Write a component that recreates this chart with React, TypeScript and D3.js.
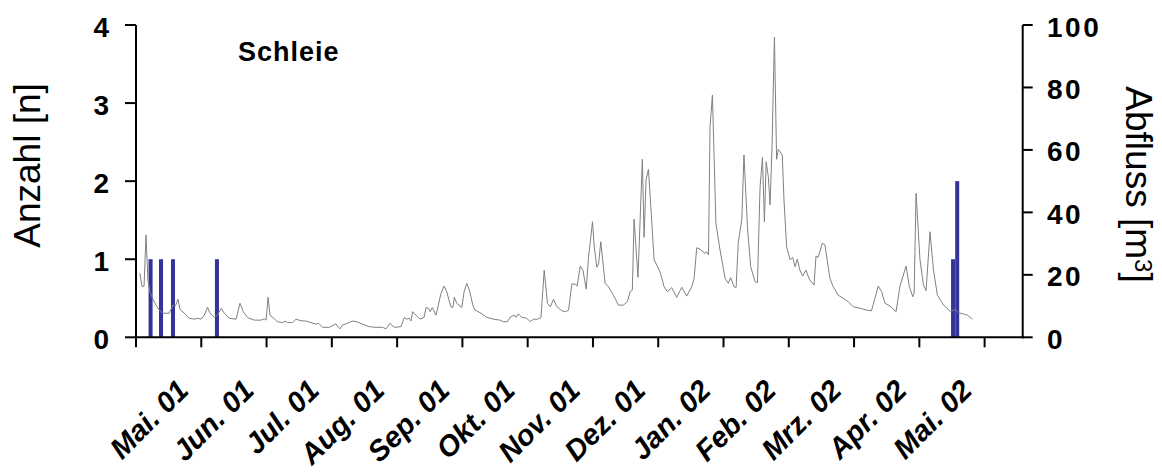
import React from "react";
import * as d3 from "d3";

// ---- Data ----
const monthLabels = ["Mai. 01", "Jun. 01", "Jul. 01", "Aug. 01", "Sep. 01", "Okt. 01", "Nov. 01", "Dez. 01", "Jan. 02", "Feb. 02", "Mrz. 02", "Apr. 02", "Mai. 02"];
const xTickDays = [0, 30, 60, 90, 120, 150, 180, 210, 240, 270, 300, 330, 360, 390];
const leftTicks = [0, 1, 2, 3, 4];
const rightTicks = [0, 20, 40, 60, 80, 100];

// Anzahl (fish count) bars: day index and count
const countDays = [6.7, 11.5, 17, 37.2, 375.5, 377.4];
const countValues = [1, 1, 1, 1, 1, 2];

// Abfluss (discharge) line: [day index, value]
const flow: [number, number][] = [
  [1.8, 20.5], [2.8, 16.2], [3.7, 16.4], [4.6, 32.8], [5.5, 18.3], [6.4, 14.6], [7.6, 12.5], [9.2, 10.3], [10.7, 8.7], [12.3, 7.7],
  [15.3, 7.7], [16.9, 10.3], [18.1, 10], [19.3, 12.2], [20.2, 9], [22.2, 7.7], [24.5, 6.1], [26.8, 5.8], [28.3, 6.1], [29.9, 5.8],
  [31.4, 7.1], [32.9, 9.6], [34, 7.7], [36, 6.4], [37.5, 7.1], [39.1, 9.3], [40.6, 7.7], [42.9, 6.1], [46, 5.8], [47.8, 10.9],
  [49.3, 8.2], [51.3, 6.3], [54.4, 5.5], [57.5, 5.5], [59, 5.9], [59.8, 5.5], [60.7, 12.8], [61.6, 7.1], [63.6, 5.9], [65.1, 5],
  [67.4, 4.7], [68.6, 5.2], [69.7, 4.7], [72, 4.7], [73.5, 5.8], [75.8, 5.3], [78.1, 5.2], [80.4, 4.7], [82.7, 4.2], [83.9, 4.5],
  [85.8, 3.2], [88.8, 3.2], [91.9, 4.3], [92.6, 3.6], [93.7, 2.7], [94.9, 3.9], [97.2, 4.5], [99.5, 5.2], [101.3, 5], [104.1, 4.2],
  [107.1, 3.4], [110.3, 3.2], [113.3, 3.2], [114.9, 2.7], [116.7, 4.5], [118.7, 3.2], [121.8, 3.4], [123.3, 6.3], [124.4, 5.8], [125.6, 6.1],
  [126.4, 5.2], [127.1, 8.2], [128.7, 7.1], [130.5, 5.8], [132.4, 6.4], [133.3, 9.5], [134.4, 9.3], [135.2, 8.2], [136.2, 9.5], [137.9, 7.1],
  [140.1, 13.9], [141.6, 16.4], [142.8, 14.6], [144.7, 9.8], [145.6, 9.5], [146.3, 12.8], [147.4, 10.9], [149.7, 9.5], [150.8, 14.6], [152, 17.3],
  [153.2, 15.1], [154.8, 10.3], [155.8, 8.7], [158.1, 7.9], [161.2, 6.4], [164.2, 5.8], [167.3, 5.5], [168.8, 5], [170.7, 5], [172.2, 6.6],
  [173.8, 7.1], [174.7, 6.4], [175.7, 7.5], [177.3, 6.4], [179.6, 6.1], [181.1, 5], [182.7, 5.8], [184.5, 5.8], [186.1, 6.3], [187.6, 21.5],
  [189.1, 10.9], [190.4, 9.8], [191.9, 12.2], [193.4, 9.8], [195.7, 8.5], [197.3, 8.2], [198.8, 8.7], [200.3, 17.1], [201.9, 17], [202.7, 16.4],
  [204.2, 22.8], [205.4, 21.5], [206.9, 15.4], [208, 25.8], [209.8, 37], [210.6, 29], [211.8, 22.4], [212.6, 23.5], [213.6, 30.6], [215.6, 17.3],
  [217.1, 16.2], [219.4, 13.5], [221.7, 10.3], [224, 10.3], [225.8, 11.4], [227.1, 14.6], [228.1, 15.1], [228.9, 37.8], [230.7, 19.2], [232.7, 57],
  [233.5, 32], [234.4, 50.4], [235.5, 53.8], [236.6, 41.8], [238.1, 24.8], [239.6, 22.8], [240.9, 20.8], [242.7, 16.2], [244.2, 14.6], [246.2, 15.9],
  [248.5, 12.8], [250.8, 16], [253.1, 13.2], [255.4, 16.2], [256.5, 18.9], [257.7, 28.7], [259.2, 28.2], [261.5, 26.9], [262.3, 27.4], [263.1, 26.4],
  [263.8, 67.4], [264.9, 77.6], [266.5, 36.5], [268.4, 28], [270.7, 18.9], [272.2, 17.3], [273.3, 19.1], [274.8, 16.2], [275.8, 16], [276.8, 30.6],
  [278.4, 37.6], [279.4, 58.4], [281, 35.4], [282.5, 22.6], [284.5, 17.8], [285.6, 17.5], [286.8, 48.2], [287.9, 57.6], [288.8, 37], [289.6, 56.2],
  [290.6, 51.4], [291.4, 42.4], [292.3, 61], [293.4, 96.1], [294.4, 57], [295.2, 60.2], [297, 58.4], [297.8, 44], [299, 29], [300.6, 24.8],
  [301.8, 25.6], [302.9, 22.6], [303.9, 25], [305.1, 21.5], [306.4, 19.6], [307.9, 21.5], [309.4, 18.6], [311.6, 16.7], [312.5, 26], [313.5, 25.6],
  [315.4, 30.1], [316.6, 29.6], [318.9, 18.9], [320.4, 16.2], [322.7, 13.5], [325, 12.5], [327.3, 11.4], [329.6, 9.8], [332.7, 9.3], [335.8, 8.7],
  [338, 8.5], [339.6, 12.5], [341.1, 16.4], [342.7, 14.6], [344.2, 10.9], [346.5, 10], [349.3, 8.2], [351.1, 16.4], [353.9, 22.8], [355.4, 16.2],
  [357, 13], [357.6, 14.1], [358.5, 46.1], [360.3, 24.8], [361.9, 16.7], [363.1, 14.9], [364.9, 33.8], [366.5, 21.5], [368.3, 13.5], [371.1, 10.3],
  [374.4, 8.2], [376.4, 9], [377.9, 7.9], [380.2, 7.5], [382.1, 7.1], [384.4, 5.8],
];

const W = 1162;
const H = 472;
const FONT = "Arial, 'Liberation Sans', Helvetica, sans-serif";

export default function App() {
  const x = d3.scaleLinear().domain([0, 407.5]).range([136, 1022.7]);
  const yL = d3.scaleLinear().domain([0, 4]).range([337.3, 25]);
  const yR = d3.scaleLinear().domain([0, 100]).range([337.3, 25]);
  const barW = x(1.85) - x(0);
  const line = d3.line<[number, number]>().x((d) => x(d[0])).y((d) => yR(d[1]));
  const x0 = x.range()[0];
  const x1 = x.range()[1];
  const yBase = yL(0);
  const yTop = yL(4);

  return (
    <svg width={W} height={H} style={{ position: "absolute", left: 0, top: 0, background: "#fff" }} fontFamily={FONT}>
      <rect x={0} y={0} width={W} height={H} fill="#fff" />
      {/* bars */}
      {countDays.map((d, i) => (
        <rect key={"b" + i} x={x(d) - barW / 2} y={yL(countValues[i])} width={barW} height={yBase - yL(countValues[i])} fill="#333399" />
      ))}
      {/* flow line */}
      <path d={line(flow) || ""} fill="none" stroke="#808080" strokeWidth={1} strokeLinejoin="round" />

      {/* axes */}
      <g stroke="#000" strokeWidth={2} fill="none">
        <line x1={x0} y1={yTop} x2={x0} y2={yBase + 1} />
        <line x1={x1} y1={yTop} x2={x1} y2={yBase + 1} />
        <line x1={x0 - 1} y1={yBase} x2={x1 + 1} y2={yBase} />
        {leftTicks.map((t) => (
          <line key={"lt" + t} x1={x0 - 11} x2={x0} y1={yL(t)} y2={yL(t)} />
        ))}
        {rightTicks.map((t) => (
          <line key={"rt" + t} x1={x1} x2={x1 + 10} y1={yR(t)} y2={yR(t)} />
        ))}
        {xTickDays.map((t) => (
          <line key={"xt" + t} x1={x(t)} x2={x(t)} y1={yBase} y2={yBase + 10} />
        ))}
      </g>

      {/* left tick labels */}
      {leftTicks.map((t) => (
        <text key={"ll" + t} x={109} y={yL(t) + 11.5} textAnchor="end" fontSize={28} fontWeight="bold" fill="#000">
          {t}
        </text>
      ))}
      {/* right tick labels */}
      {rightTicks.map((t) => (
        <text key={"rl" + t} x={1047} y={yR(t) + 11.5} textAnchor="start" fontSize={28} fontWeight="bold" letterSpacing={2.5} fill="#000">
          {t}
        </text>
      ))}
      {/* x labels */}
      {monthLabels.map((m, i) => {
        const ax = x(xTickDays[i + 1]) - 11;
        const ay = 392;
        return (
          <text key={"xl" + i} transform={`translate(${ax},${ay}) rotate(-45)`} textAnchor="end" fontSize={29} fontWeight="bold" fontStyle="italic" fill="#000">
            {m}
          </text>
        );
      })}

      {/* axis titles */}
      <text transform={`translate(40,165.5) rotate(-90)`} textAnchor="middle" fontSize={37} fill="#000">
        Anzahl [n]
      </text>
      <text transform={`translate(1126,184.5) rotate(90)`} textAnchor="middle" fontSize={37} fill="#000">
        Abfluss [m<tspan fontSize={24} dy={-9}>3</tspan><tspan dy={9}>]</tspan>
      </text>

      {/* series title */}
      <text x={238} y={61} fontSize={27} fontWeight="bold" letterSpacing={1} fill="#000">
        Schleie
      </text>
    </svg>
  );
}
